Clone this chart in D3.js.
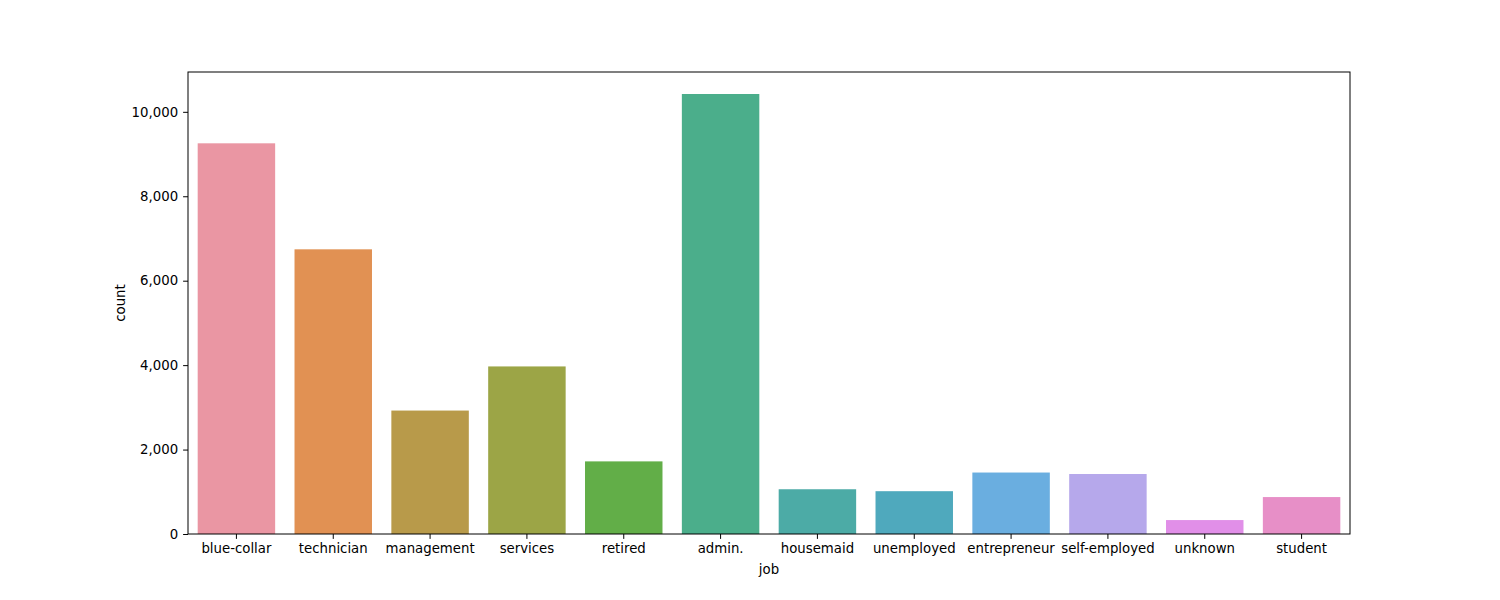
<!DOCTYPE html>
<html>
<head>
<meta charset="utf-8">
<script src="https://d3js.org/d3.v7.min.js"></script>
<style>
  body { margin: 0; background: #fff; }
  text { font-family: "DejaVu Sans", sans-serif; }
</style>
</head>
<body>
<svg id="chart" width="1500" height="600"></svg>
<script>
// job counts, in plot order
const jobs = ['blue-collar', 'technician', 'management', 'services', 'retired', 'admin.',
  'housemaid', 'unemployed', 'entrepreneur', 'self-employed', 'unknown', 'student'];
const counts = [9254, 6743, 2924, 3969, 1720, 10422, 1060, 1014, 1456, 1421, 330, 875];
const colors = ['#ea96a3', '#e19153', '#b89a4a', '#9ca546', '#62ae48', '#4bae8b',
  '#4caba6', '#4fa9bd', '#6aaee0', '#b6a8eb', '#e18fe8', '#e78fc7'];
const yTicks = [0, 2000, 4000, 6000, 8000, 10000];

const margin = { left: 188, right: 150, top: 72, bottom: 66 };
const width = 1500 - margin.left - margin.right;
const height = 600 - margin.top - margin.bottom;

const svg = d3.select('#chart');
const g = svg.append('g').attr('transform', `translate(${margin.left},${margin.top})`);

const x = d3.scaleBand().domain(jobs).range([0, width]).paddingInner(0.2).paddingOuter(0.1);
const y = d3.scaleLinear().domain([0, d3.max(counts) * 1.05]).range([height, 0]);

// Bars
g.selectAll('rect.bar')
  .data(jobs)
  .enter()
  .append('rect')
  .attr('class', 'bar')
  .attr('x', d => x(d))
  .attr('width', x.bandwidth())
  .attr('y', (d, i) => y(counts[i]))
  .attr('height', (d, i) => height - y(counts[i]))
  .attr('fill', (d, i) => colors[i]);

// Axes
const xAxis = g.append('g')
  .attr('transform', `translate(0,${height})`)
  .call(d3.axisBottom(x).tickSizeOuter(0).tickSize(4.9).tickPadding(5));
const yAxis = g.append('g')
  .call(d3.axisLeft(y).tickValues(yTicks).tickSizeOuter(0).tickSize(4.9).tickPadding(5));

[xAxis, yAxis].forEach(a => {
  a.selectAll('text').attr('font-size', 13.3).attr('fill', '#000')
    .style('font-family', '"DejaVu Sans", sans-serif');
  a.selectAll('line').attr('stroke', '#000');
  a.select('.domain').remove();
});

// Frame
g.append('rect')
  .attr('width', width).attr('height', height)
  .attr('fill', 'none').attr('stroke', '#000').attr('stroke-width', 1);

// Axis labels
svg.append('text')
  .attr('x', margin.left + width / 2).attr('y', 574)
  .attr('text-anchor', 'middle').attr('font-size', 13.3)
  .text('job');
svg.append('text')
  .attr('transform', `translate(125,${margin.top + height / 2}) rotate(-90)`)
  .attr('text-anchor', 'middle').attr('font-size', 13.3)
  .text('count');
</script>
</body>
</html>
